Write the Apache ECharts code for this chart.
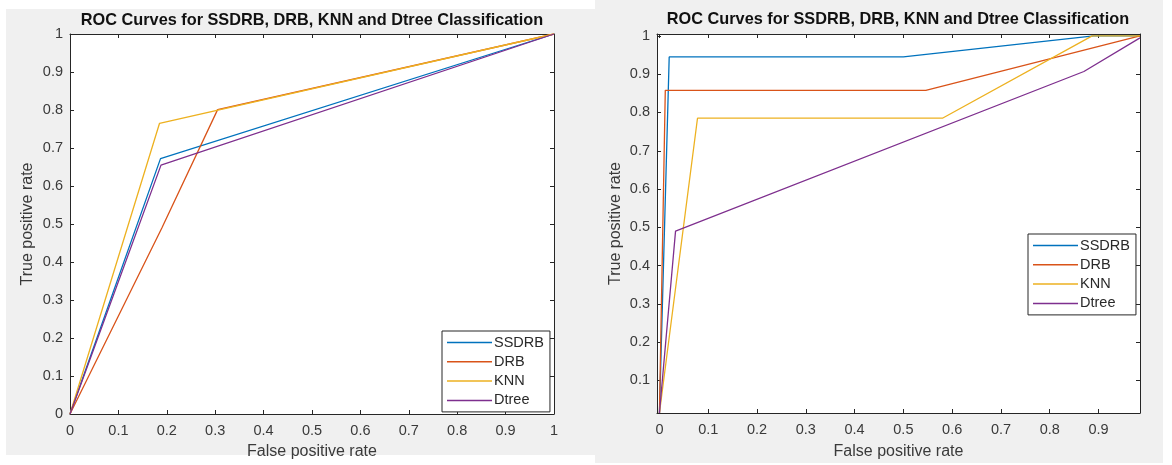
<!DOCTYPE html>
<html><head><meta charset="utf-8">
<script src="https://cdn.jsdelivr.net/npm/echarts@6/dist/echarts.min.js"></script>
<style>html,body{margin:0;padding:0;background:#fff}#c{width:1172px;height:465px}</style>
</head><body><div id="c"></div>
<script>
// ---------- data ----------
const seriesNames = ['SSDRB', 'DRB', 'KNN', 'Dtree'];
const titleText = 'ROC Curves for SSDRB, DRB, KNN and Dtree Classification';
const xAxisName = 'False positive rate';
const yAxisName = 'True positive rate';

// left panel ROC points [FPR, TPR]
const leftSSDRB = [[0, 0], [0.187, 0.672], [1, 1]];
const leftDRB   = [[0, 0], [0.19, 0.49], [0.305, 0.801], [1, 1]];
const leftKNN   = [[0, 0], [0.185, 0.765], [1, 1]];
const leftDtree = [[0, 0], [0.188, 0.655], [1, 1]];

// right panel ROC points [FPR, TPR]
const rightSSDRB = [[0, 0.015], [0.02, 0.945], [0.5, 0.945], [0.89, 1], [0.985, 1]];
const rightDRB   = [[0, 0.015], [0.012, 0.858], [0.546, 0.858], [0.985, 1]];
const rightKNN   = [[0, 0.015], [0.078, 0.785], [0.58, 0.785], [0.887, 1], [0.985, 1]];
const rightDtree = [[0, 0.015], [0.033, 0.49], [0.87, 0.907], [0.985, 0.995]];

// tick values
const leftTicks   = [0, 0.1, 0.2, 0.3, 0.4, 0.5, 0.6, 0.7, 0.8, 0.9, 1];
const rightXTicks = [0, 0.1, 0.2, 0.3, 0.4, 0.5, 0.6, 0.7, 0.8, 0.9];
const rightYTicks = [0.1, 0.2, 0.3, 0.4, 0.5, 0.6, 0.7, 0.8, 0.9, 1];
const rightXRange = [-0.005, 0.985];
const rightYRange = [0.015, 1.005];

// ---------- styling ----------
const colors = ['#0072BD', '#D95319', '#EDB120', '#7E2F8E'];
const FONT = '"Liberation Sans", Arial, sans-serif';
const AX = '#262626';
const fmt = v => String(+(+v).toFixed(2));

function axis(kind, opts) {
  const main = !opts.mirror;
  const a = {
    type: 'value',
    gridIndex: opts.grid,
    position: opts.position,
    min: opts.min, max: opts.max,
    axisLine: { show: true, onZero: false, lineStyle: { color: AX, width: 1 } },
    axisTick: { show: true, inside: true, length: 4, lineStyle: { color: AX, width: 1 } },
    axisLabel: { show: main, color: '#3a3a3a', fontFamily: FONT, fontSize: 14.5,
                 margin: kind === 'x' ? 9 : 7, formatter: fmt },
    splitLine: { show: false }
  };
  const ticks = opts.ticks || leftTicks;
  a.axisTick.customValues = ticks;
  a.axisLabel.customValues = ticks;
  if (main) {
    a.name = kind === 'x' ? xAxisName : yAxisName;
    a.nameLocation = 'middle';
    a.nameGap = opts.nameGap;
    a.nameTextStyle = { color: '#3a3a3a', fontFamily: FONT, fontSize: 16 };
  }
  return a;
}

function mkSeries(datas, xi, yi) {
  return datas.map((d, i) => ({
    name: seriesNames[i], type: 'line', xAxisIndex: xi, yAxisIndex: yi,
    data: d, symbol: 'none', showSymbol: false, animation: false,
    lineStyle: { color: colors[i], width: 1.3 }, itemStyle: { color: colors[i] },
    z: 3
  }));
}

function legend(left, top) {
  return {
    orient: 'vertical', left: left, top: top,
    data: seriesNames.map(n => ({ name: n, icon: 'rect' })),
    backgroundColor: '#fff', borderColor: AX, borderWidth: 1,
    padding: [4, 6, 4, 5], itemGap: 4.3, itemWidth: 45, itemHeight: 1.5,
    textStyle: { color: '#2a2a2a', fontFamily: FONT, fontSize: 14.5, padding: [0, 0, 0, -3] },
    selectedMode: false
  };
}

const chart = echarts.init(document.getElementById('c'), null, { renderer: 'canvas' });
chart.setOption({
  animation: false,
  backgroundColor: '#fff',
  graphic: [
    { type: 'rect', z: -10, silent: true, shape: { x: 6, y: 9, width: 589, height: 446 }, style: { fill: '#f0f0f0' } },
    { type: 'rect', z: -10, silent: true, shape: { x: 595, y: 0, width: 568, height: 463 }, style: { fill: '#f0f0f0' } }
  ],
  title: [
    { text: titleText, left: 312, top: 13, textAlign: 'center', padding: 0,
      textStyle: { fontFamily: FONT, fontSize: 16.3, fontWeight: 'bold', color: '#111' } },
    { text: titleText, left: 898, top: 12, textAlign: 'center', padding: 0,
      textStyle: { fontFamily: FONT, fontSize: 16.3, fontWeight: 'bold', color: '#111' } }
  ],
  grid: [
    { left: 70, top: 34, width: 484, height: 382.5, show: true, backgroundColor: '#fff', borderWidth: 0 },
    { left: 657, top: 34, width: 483, height: 380.3, show: true, backgroundColor: '#fff', borderWidth: 0 }
  ],
  xAxis: [
    axis('x', { grid: 0, position: 'bottom', min: 0, max: 1, nameGap: 30 }),
    axis('x', { grid: 0, position: 'top', min: 0, max: 1, mirror: true }),
    axis('x', { grid: 1, position: 'bottom', min: rightXRange[0], max: rightXRange[1], ticks: rightXTicks, nameGap: 31 }),
    axis('x', { grid: 1, position: 'top', min: rightXRange[0], max: rightXRange[1], ticks: rightXTicks, mirror: true })
  ],
  yAxis: [
    axis('y', { grid: 0, position: 'left', min: 0, max: 1, nameGap: 34 }),
    axis('y', { grid: 0, position: 'right', min: 0, max: 1, mirror: true }),
    axis('y', { grid: 1, position: 'left', min: rightYRange[0], max: rightYRange[1], ticks: rightYTicks, nameGap: 33 }),
    axis('y', { grid: 1, position: 'right', min: rightYRange[0], max: rightYRange[1], ticks: rightYTicks, mirror: true })
  ],
  legend: [legend(442, 331), legend(1028, 234)],
  series: [
    ...mkSeries([leftSSDRB, leftDRB, leftKNN, leftDtree], 0, 0),
    ...mkSeries([rightSSDRB, rightDRB, rightKNN, rightDtree], 2, 2)
  ]
});
</script>
</body></html>
